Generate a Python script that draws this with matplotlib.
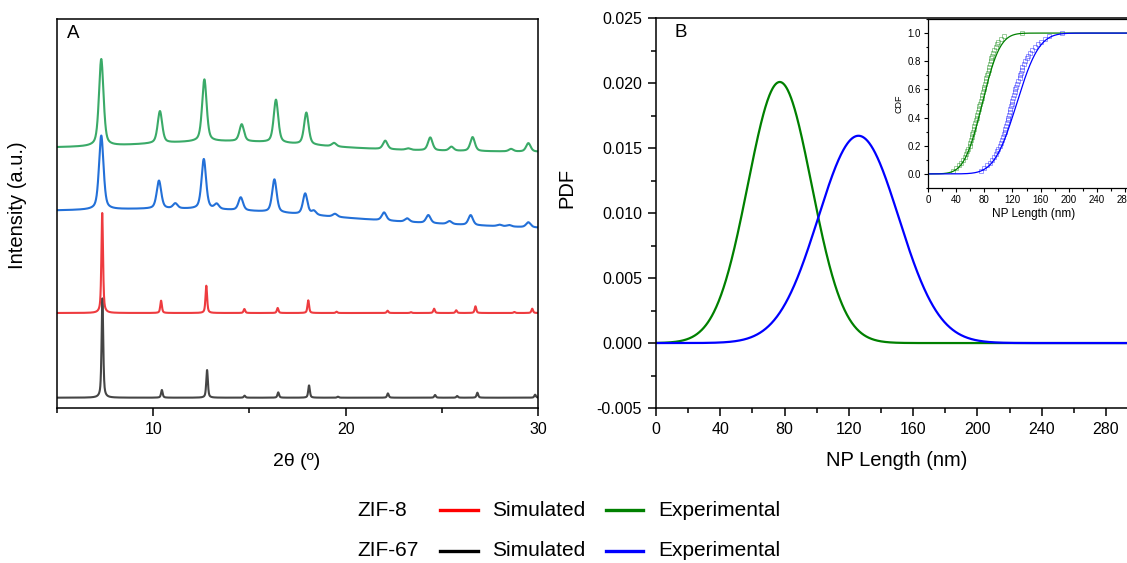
import math
import numpy as np
import matplotlib
matplotlib.use("Agg")
import matplotlib.pyplot as plt
from matplotlib.lines import Line2D
from matplotlib.ticker import MultipleLocator

plt.rcParams['font.family'] = ['Liberation Sans', 'DejaVu Sans']

W, H = 1127, 563

# ---- panel A: XRD reflections (2theta in deg, peak height in a.u.)
zif8_exp_pos = [7.30, 10.35, 12.66, 14.60, 16.38, 17.96, 19.40, 22.06, 23.25, 24.40, 25.50, 26.60, 28.60, 29.50]
zif8_exp_h = [87, 32, 62, 17, 43, 32, 3.5, 8.5, 1.5, 13, 4, 14, 2.5, 8.5]

zif67_exp_pos = [7.30, 10.30, 11.15, 12.63, 13.30, 14.55, 16.30, 17.90, 18.35, 19.45, 22.00, 23.20,
                 24.30, 25.40, 26.50, 28.00, 28.50, 29.50]
zif67_exp_h = [74, 28, 5, 50, 5, 13, 33, 21, 4, 3, 8, 3.5, 8, 3, 10, 1.5, 1.5, 5]

zif8_sim_pos = [7.35, 10.41, 12.76, 14.74, 16.47, 18.06, 19.53, 22.18, 23.40, 24.60, 25.75, 26.75, 28.77, 29.70]
zif8_sim_h = [100, 12.3, 27.3, 4, 5, 12.7, 1.3, 2.3, 0.8, 4.3, 2.7, 6.7, 1, 4.3]

zif67_sim_pos = [7.36, 10.45, 12.80, 14.75, 16.50, 18.10, 19.60, 22.20, 24.65, 25.80, 26.85, 29.85]
zif67_sim_h = [99.3, 7.7, 27.7, 2, 5.3, 12.3, 1, 4.3, 2.7, 1.7, 5, 3]

# stacking offset, background slope, amorphous hump (centre, height, fwhm)
zif8_exp_bg = (260.0, -0.15, 14.0, 8.0, 10.0)
zif67_exp_bg = (194.0, -0.55, 13.0, 9.0, 14.0)
zif8_sim_bg = (95.0, 0.0, 14.0, 0.0, 10.0)
zif67_sim_bg = (10.3, 0.0, 14.0, 0.0, 10.0)

# ---- panel B: fitted normal distributions of particle length (nm)
zif8_mean, zif8_sd = 77.0, 19.85
zif67_mean, zif67_sd = 126.0, 25.0

# measured particle lengths (nm) used for the empirical CDF in the inset
zif8_lengths = [36, 40, 44, 47, 50, 52, 54, 56, 57, 59, 60, 61, 62, 63, 64, 65, 66, 67, 68, 69,
                70, 71, 72, 73, 74, 75, 76, 77, 78, 79, 80, 81, 82, 83, 84, 85, 86, 87, 88, 89,
                90, 91, 92, 94, 96, 98, 100, 103, 108, 134]
zif67_lengths = [75, 80, 84, 88, 91, 94, 96, 98, 100, 102, 104, 105, 107, 108, 109, 110, 111, 112, 113, 114,
                 115, 116, 117, 118, 119, 120, 121, 122, 123, 124, 125, 126, 128, 130, 131, 132, 133, 134, 136, 138,
                 140, 142, 145, 148, 152, 156, 160, 166, 172, 190]


def pattern(x, pos, hts, fwhm, bg, eta=0.5):
    off, slope, hc, hh, hw = bg
    y = off + slope * (x - 5.0) + hh * np.exp(-4 * np.log(2) * ((x - hc) / hw) ** 2)
    for c, h in zip(pos, hts):
        g = np.exp(-4 * np.log(2) * ((x - c) / fwhm) ** 2)
        l = 1.0 / (1.0 + 4 * ((x - c) / fwhm) ** 2)
        y = y + h * (eta * l + (1 - eta) * g)
    return y


def npdf(x, m, s):
    return np.exp(-0.5 * ((x - m) / s) ** 2) / (s * np.sqrt(2 * np.pi))


def ncdf(x, m, s):
    return np.array([0.5 * (1 + math.erf((v - m) / (s * math.sqrt(2)))) for v in x])


fig = plt.figure(figsize=(W / 100, H / 100), dpi=100)

# ---------------- panel A
axA = fig.add_axes([57 / W, 1 - 408 / H, 481 / W, 389 / H])
tt = np.linspace(5, 30, 3000)
axA.plot(tt, pattern(tt, zif67_sim_pos, zif67_sim_h, 0.10, zif67_sim_bg, 0.6), color='#454545', lw=1.5)
axA.plot(tt, pattern(tt, zif8_sim_pos, zif8_sim_h, 0.10, zif8_sim_bg, 0.6), color='#ee3b3f', lw=1.5)
axA.plot(tt, pattern(tt, zif67_exp_pos, zif67_exp_h, 0.28, zif67_exp_bg), color='#2370d8', lw=1.5)
axA.plot(tt, pattern(tt, zif8_exp_pos, zif8_exp_h, 0.28, zif8_exp_bg), color='#3aaa68', lw=1.5)
axA.set_xlim(5, 30)
axA.set_ylim(0, 389)
axA.set_yticks([])
axA.xaxis.set_major_locator(MultipleLocator(10))
axA.xaxis.set_minor_locator(MultipleLocator(5))
axA.tick_params(axis='x', which='major', direction='out', length=6, width=1.1, labelsize=11.5, pad=4)
axA.tick_params(axis='x', which='minor', direction='out', length=3.5, width=1.1)
for sp in axA.spines.values():
    sp.set_linewidth(1.1)
axA.text(0.02, 0.985, "A", transform=axA.transAxes, ha='left', va='top', fontsize=13.5)

fig.text(18 / W, 1 - 205 / H, "Intensity (a.u.)", rotation=90, ha='center', va='center', fontsize=14.5)
fig.text(297 / W, 1 - 462 / H, "2θ (º)", ha='center', va='center', fontsize=14)

# ---------------- panel B
axB = fig.add_axes([656 / W, 1 - 408 / H, 300 * 1.607 / W, 389.7 / H])
ll = np.linspace(0, 300, 1200)
axB.plot(ll, npdf(ll, zif8_mean, zif8_sd), color='#008000', lw=1.6)
axB.plot(ll, npdf(ll, zif67_mean, zif67_sd), color='#0000ff', lw=1.6)
axB.set_xlim(0, 300)
axB.set_ylim(-0.005, 0.025)
axB.xaxis.set_major_locator(MultipleLocator(40))
axB.xaxis.set_minor_locator(MultipleLocator(20))
axB.yaxis.set_major_locator(MultipleLocator(0.005))
axB.yaxis.set_minor_locator(MultipleLocator(0.0025))
axB.yaxis.set_major_formatter(plt.FuncFormatter(lambda v, p: "%.3f" % v))
axB.tick_params(which='major', direction='out', length=6, width=1.1, labelsize=11.5, pad=4)
axB.tick_params(which='minor', direction='out', length=3.5, width=1.1)
for sp in axB.spines.values():
    sp.set_linewidth(1.1)
axB.text(18 / 482, 0.985, "B", transform=axB.transAxes, ha='left', va='top', fontsize=13.5)

fig.text(567 / W, 1 - 188 / H, "PDF", rotation=90, ha='center', va='center', fontsize=14.5)
fig.text(897 / W, 1 - 461 / H, "NP Length (nm)", ha='center', va='center', fontsize=14.5)

# ---------------- inset: cumulative distributions
axI = fig.add_axes([928 / W, 1 - 188 / H, 300 * 0.704 / W, 169 / H])
for vals, col, m, s in [(zif8_lengths, '#008000', zif8_mean, zif8_sd),
                        (zif67_lengths, '#0000ff', zif67_mean, zif67_sd)]:
    xs = np.sort(vals)
    ys = np.arange(1, len(xs) + 1) / len(xs)
    axI.plot(xs, ys, ls='none', marker='s', ms=2.6, mfc='none', mec=col, mew=0.6, alpha=0.45)
    axI.plot(ll, ncdf(ll, m, s), color=col, lw=0.9)
axI.set_xlim(0, 300)
axI.set_ylim(-0.1, 1.1)
axI.xaxis.set_major_locator(MultipleLocator(40))
axI.xaxis.set_minor_locator(MultipleLocator(20))
axI.yaxis.set_major_locator(MultipleLocator(0.2))
axI.yaxis.set_minor_locator(MultipleLocator(0.1))
axI.yaxis.set_major_formatter(plt.FuncFormatter(lambda v, p: "%.1f" % v))
axI.tick_params(which='major', direction='out', length=3, width=0.8, labelsize=7, pad=2)
axI.tick_params(which='minor', direction='out', length=1.8, width=0.8)
for sp in axI.spines.values():
    sp.set_linewidth(0.9)
axI.set_xlabel("NP Length (nm)", fontsize=8.5, labelpad=2)
axI.set_ylabel("CDF", fontsize=6.5, labelpad=3)

# ---------------- shared legend below the panels
legend_groups = ["ZIF-8", "ZIF-67"]
sim_colors = ['#ff0000', '#000000']
exp_colors = ['#008000', '#0000ff']
row_y = [510, 551]
for name, cs, ce, py in zip(legend_groups, sim_colors, exp_colors, row_y):
    fy = 1 - py / H
    fig.text(357 / W, fy, name, ha='left', va='center', fontsize=15)
    fig.add_artist(Line2D([440 / W, 478 / W], [fy, fy], color=cs, lw=2.4))
    fig.text(492 / W, fy, "Simulated", ha='left', va='center', fontsize=15)
    fig.add_artist(Line2D([606 / W, 643 / W], [fy, fy], color=ce, lw=2.4))
    fig.text(658 / W, fy, "Experimental", ha='left', va='center', fontsize=15)

fig.savefig("out.png", dpi=100)
